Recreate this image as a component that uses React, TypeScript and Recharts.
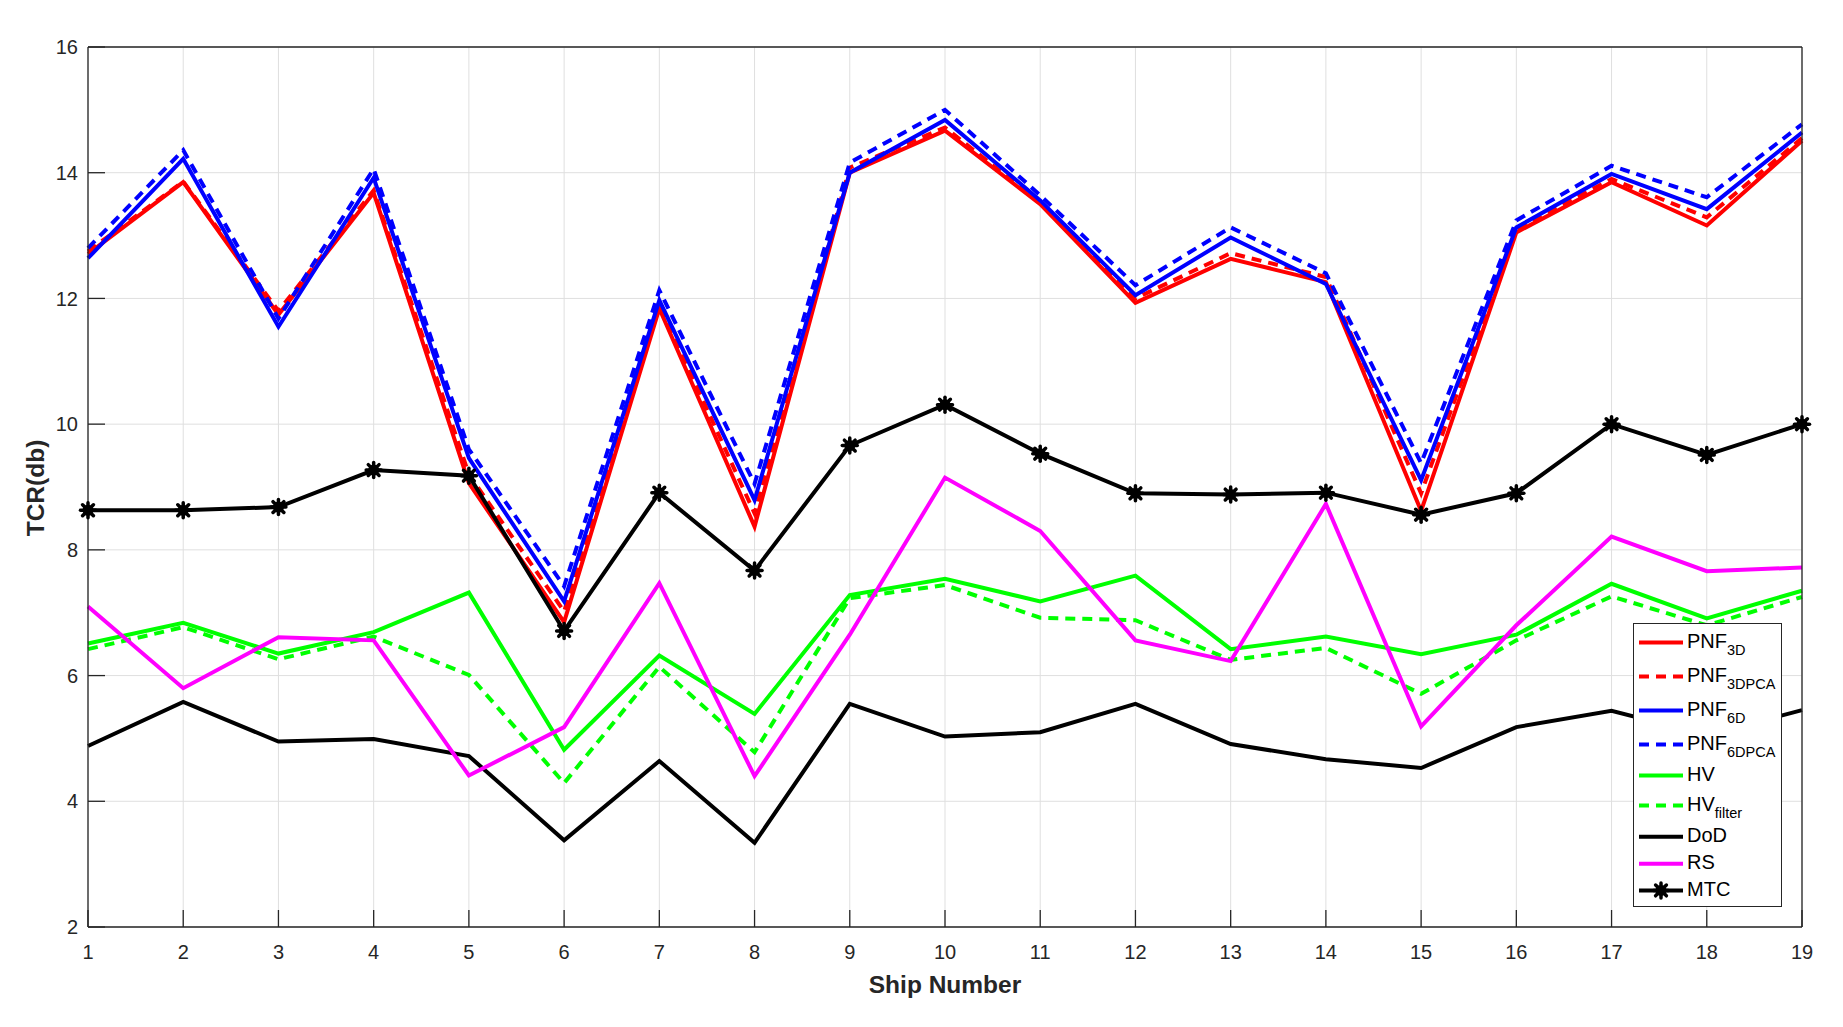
import React from 'react';
import { LineChart, Line, XAxis, YAxis, CartesianGrid, Legend } from 'recharts';

const ships = [1, 2, 3, 4, 5, 6, 7, 8, 9, 10, 11, 12, 13, 14, 15, 16, 17, 18, 19];
const yTicks = [2, 4, 6, 8, 10, 12, 14, 16];

const pnf3d = [12.71, 13.85, 11.74, 13.68, 9.06, 6.85, 11.84, 8.37, 14.0, 14.67, 13.5, 11.93, 12.63, 12.26, 8.62, 13.05, 13.85, 13.16, 14.51];
const pnf3dpca = [12.75, 13.86, 11.8, 13.72, 9.2, 7.02, 11.9, 8.58, 14.08, 14.72, 13.52, 12.0, 12.72, 12.34, 8.9, 13.1, 13.9, 13.29, 14.55];
const pnf6d = [12.64, 14.22, 11.55, 13.92, 9.46, 7.18, 11.97, 8.79, 14.0, 14.84, 13.56, 12.05, 12.97, 12.23, 9.11, 13.13, 13.98, 13.42, 14.64];
const pnf6dpca = [12.8, 14.36, 11.68, 14.06, 9.6, 7.42, 12.13, 9.05, 14.16, 15.0, 13.64, 12.21, 13.13, 12.4, 9.38, 13.24, 14.11, 13.61, 14.77];
const hv = [6.51, 6.84, 6.35, 6.69, 7.32, 4.82, 6.32, 5.39, 7.28, 7.54, 7.18, 7.59, 6.42, 6.62, 6.34, 6.65, 7.46, 6.91, 7.35];
const hvFilter = [6.42, 6.77, 6.26, 6.62, 6.01, 4.29, 6.14, 4.78, 7.23, 7.44, 6.92, 6.88, 6.25, 6.44, 5.71, 6.56, 7.26, 6.8, 7.25];
const dod = [4.88, 5.58, 4.95, 4.99, 4.72, 3.38, 4.64, 3.34, 5.55, 5.03, 5.1, 5.55, 4.91, 4.67, 4.53, 5.18, 5.44, 5.05, 5.45];
const rs = [7.1, 5.8, 6.61, 6.56, 4.41, 5.18, 7.47, 4.4, 6.65, 9.15, 8.3, 6.56, 6.23, 8.73, 5.19, 6.8, 8.21, 7.66, 7.72];
const mtc = [8.63, 8.63, 8.68, 9.27, 9.18, 6.71, 8.91, 7.67, 9.66, 10.31, 9.53, 8.9, 8.88, 8.91, 8.56, 8.9, 10.0, 9.51, 10.0];

const data = ships.map((s, i) => ({
  ship: s,
  pnf3d: pnf3d[i],
  pnf3dpca: pnf3dpca[i],
  pnf6d: pnf6d[i],
  pnf6dpca: pnf6dpca[i],
  hv: hv[i],
  hvFilter: hvFilter[i],
  dod: dod[i],
  rs: rs[i],
  mtc: mtc[i],
}));

type Series = { key: string; main: string; sub?: string; color: string; dash?: string; marker?: boolean };

const series: Series[] = [
  { key: 'pnf3d', main: 'PNF', sub: '3D', color: '#FF0000' },
  { key: 'pnf3dpca', main: 'PNF', sub: '3DPCA', color: '#FF0000', dash: '10 7' },
  { key: 'pnf6d', main: 'PNF', sub: '6D', color: '#0000FF' },
  { key: 'pnf6dpca', main: 'PNF', sub: '6DPCA', color: '#0000FF', dash: '10 7' },
  { key: 'hv', main: 'HV', color: '#00FF00' },
  { key: 'hvFilter', main: 'HV', sub: 'filter', color: '#00FF00', dash: '10 7' },
  { key: 'dod', main: 'DoD', color: '#000000' },
  { key: 'rs', main: 'RS', color: '#FF00FF' },
  { key: 'mtc', main: 'MTC', color: '#000000', marker: true },
];

const FONT = '"Liberation Sans", Arial, Helvetica, sans-serif';
const AXIS = '#262626';
const LW = 4;

function Asterisk({ cx, cy }: { cx: number; cy: number }) {
  const r = 7.5;
  const d = r * 0.72;
  return (
    <g stroke="#000" strokeWidth={3.5} strokeLinecap="round">
      <line x1={cx - r} y1={cy} x2={cx + r} y2={cy} />
      <line x1={cx} y1={cy - r} x2={cx} y2={cy + r} />
      <line x1={cx - d} y1={cy - d} x2={cx + d} y2={cy + d} />
      <line x1={cx - d} y1={cy + d} x2={cx + d} y2={cy - d} />
      <circle cx={cx} cy={cy} r={5.5} fill="#000" stroke="none" />
    </g>
  );
}

const MtcDot = (props: any) => {
  const { cx, cy, index } = props;
  if (cx == null || cy == null) return <g key={`mtc-${index}`} />;
  return (
    <g key={`mtc-${index}`}>
      <Asterisk cx={cx} cy={cy} />
    </g>
  );
};

const rowCenters = [19.4, 53.4, 87.4, 121.4, 152.4, 182.4, 213.7, 240.7, 267.4];

const renderLegend = () => (
  <svg width={149} height={284} style={{ display: 'block' }}>
    <rect x={0.5} y={0.5} width={148} height={283} fill="#fff" stroke={AXIS} strokeWidth={1} />
    {series.map((s, i) => {
      const cy = rowCenters[i];
      return (
        <g key={s.key}>
          <line x1={6} y1={cy} x2={50} y2={cy} stroke={s.color} strokeWidth={LW} strokeDasharray={s.dash} />
          {s.marker ? <Asterisk cx={28} cy={cy} /> : null}
          <text x={54} y={cy + 5.5} fontFamily={FONT} fontSize={20} fill="#000">
            {s.main}
            {s.sub ? (
              <tspan dy={7.3} fontSize={14.5}>
                {s.sub}
              </tspan>
            ) : null}
          </text>
        </g>
      );
    })}
  </svg>
);

const tickStyle = { fill: AXIS, fontSize: 20, fontFamily: FONT };

export default function App() {
  return (
    <div style={{ position: 'absolute', left: 0, top: 0, width: 1843, height: 1027, background: '#fff' }}>
      <LineChart
        width={1843}
        height={1027}
        data={data}
        margin={{ top: 46, right: 40, bottom: 0, left: 0 }}
      >
        <CartesianGrid stroke="#dfdfdf" strokeWidth={1} />
        <XAxis
          dataKey="ship"
          type="number"
          domain={[1, 19]}
          ticks={ships}
          interval={0}
          height={100}
          axisLine={{ stroke: AXIS, strokeWidth: 1.3 }}
          tickLine={{ stroke: AXIS, strokeWidth: 1.3 }}
          tickSize={-17}
          tickMargin={35}
          tick={tickStyle}
          label={{
            content: () => (
              <text x={945} y={993} textAnchor="middle" fontFamily={FONT} fontWeight="bold" fontSize={24.5} fill={AXIS}>
                Ship Number
              </text>
            ),
          }}
        />
        <XAxis
          xAxisId="top"
          orientation="top"
          dataKey="ship"
          type="number"
          domain={[1, 19]}
          ticks={ships}
          interval={0}
          height={1}
          axisLine={{ stroke: AXIS, strokeWidth: 1.3 }}
          tickLine={{ stroke: AXIS, strokeWidth: 1.3 }}
          tickSize={-17}
          tick={false}
        />
        <YAxis
          type="number"
          domain={[2, 16]}
          ticks={yTicks}
          interval={0}
          width={88}
          axisLine={{ stroke: AXIS, strokeWidth: 1.3 }}
          tickLine={{ stroke: AXIS, strokeWidth: 1.3 }}
          tickSize={-17}
          tickMargin={27}
          tick={tickStyle}
          label={{
            content: () => (
              <text
                x={35}
                y={488}
                transform="rotate(-90 35 488)"
                textAnchor="middle"
                dominantBaseline="central"
                fontFamily={FONT}
                fontWeight="bold"
                fontSize={24.5}
                fill={AXIS}
              >
                TCR(db)
              </text>
            ),
          }}
        />
        <YAxis
          yAxisId="right"
          orientation="right"
          type="number"
          domain={[2, 16]}
          ticks={yTicks}
          interval={0}
          width={1}
          axisLine={{ stroke: AXIS, strokeWidth: 1.3 }}
          tickLine={{ stroke: AXIS, strokeWidth: 1.3 }}
          tickSize={-17}
          tick={false}
        />
        {series.map((s) => (
          <Line
            key={s.key}
            type="linear"
            dataKey={s.key}
            name={s.main + (s.sub || '')}
            stroke={s.color}
            strokeWidth={LW}
            strokeDasharray={s.dash}
            dot={s.marker ? MtcDot : false}
            activeDot={false}
            isAnimationActive={false}
          />
        ))}
        <Legend
          layout="vertical"
          align="center"
          verticalAlign="middle"
          content={renderLegend}
          wrapperStyle={{ left: 1633, top: 623, width: 149, height: 284 }}
        />
      </LineChart>
    </div>
  );
}
